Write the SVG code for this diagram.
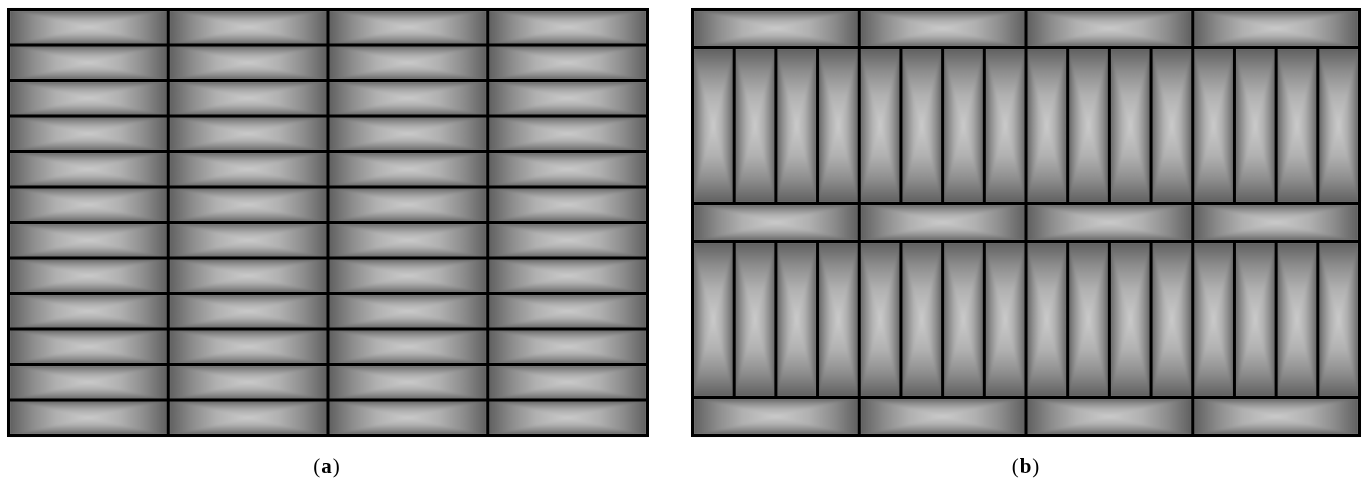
<svg xmlns="http://www.w3.org/2000/svg" xmlns:xlink="http://www.w3.org/1999/xlink" width="1364" height="481" viewBox="0 0 1364 481">
  <style>
    .grid { fill: none; stroke: #000; stroke-width: 3; }
    .lbl { font-family: "Liberation Serif", "DejaVu Serif", serif; font-size: 21px; fill: #000; text-anchor: middle; letter-spacing: 1px; }
  </style>
  <defs>
    <filter id="soft" x="-2%" y="-2%" width="104%" height="104%">
      <feGaussianBlur stdDeviation="1.2"/>
    </filter>
    <!-- full-span ramps (edge -> centre -> edge) -->
    <linearGradient id="spanX" x1="0" y1="0" x2="1" y2="0">
      <stop offset="0" stop-color="#5e5e5e"/>
      <stop offset="0.15" stop-color="#8c8c8c"/>
      <stop offset="0.3" stop-color="#b0b0b0"/>
      <stop offset="0.5" stop-color="#cbcbcb"/>
      <stop offset="0.7" stop-color="#b0b0b0"/>
      <stop offset="0.85" stop-color="#8c8c8c"/>
      <stop offset="1" stop-color="#5e5e5e"/>
    </linearGradient>
    <linearGradient id="spanY" x1="0" y1="0" x2="0" y2="1" xlink:href="#spanX" href="#spanX"/>
    <!-- half ramps (edge -> centre) -->
    <linearGradient id="down" x1="0" y1="0" x2="0" y2="1">
      <stop offset="0" stop-color="#5e5e5e"/>
      <stop offset="0.3" stop-color="#8c8c8c"/>
      <stop offset="0.6" stop-color="#b0b0b0"/>
      <stop offset="1" stop-color="#cbcbcb"/>
    </linearGradient>
    <linearGradient id="up" x1="0" y1="1" x2="0" y2="0" xlink:href="#down" href="#down"/>
    <linearGradient id="right" x1="0" y1="0" x2="1" y2="0" xlink:href="#down" href="#down"/>
    <linearGradient id="left" x1="1" y1="0" x2="0" y2="0" xlink:href="#down" href="#down"/>
    <symbol id="tileH" viewBox="0 0 1 1" preserveAspectRatio="none">
      <rect x="0" y="0" width="1" height="1" fill="url(#spanX)"/>
      <polygon points="0,0 1,0 0.5,0.5" fill="url(#down)"/>
      <polygon points="0,1 1,1 0.5,0.5" fill="url(#up)"/>
    </symbol>
    <symbol id="tileV" viewBox="0 0 1 1" preserveAspectRatio="none">
      <rect x="0" y="0" width="1" height="1" fill="url(#spanY)"/>
      <polygon points="0,0 0,1 0.5,0.5" fill="url(#right)"/>
      <polygon points="1,0 1,1 0.5,0.5" fill="url(#left)"/>
    </symbol>
    <g id="rowA">
      <use xlink:href="#tileH" href="#tileH" x="8.5" y="0" width="159.75" height="35.5"/>
      <use xlink:href="#tileH" href="#tileH" x="168.25" y="0" width="159.75" height="35.5"/>
      <use xlink:href="#tileH" href="#tileH" x="328" y="0" width="159.75" height="35.5"/>
      <use xlink:href="#tileH" href="#tileH" x="487.75" y="0" width="159.75" height="35.5"/>
    </g>
    <g id="rowBh">
      <use xlink:href="#tileH" href="#tileH" x="692.5" y="0" width="166.75" height="38"/>
      <use xlink:href="#tileH" href="#tileH" x="859.25" y="0" width="166.75" height="38"/>
      <use xlink:href="#tileH" href="#tileH" x="1026" y="0" width="166.75" height="38"/>
      <use xlink:href="#tileH" href="#tileH" x="1192.75" y="0" width="166.75" height="38"/>
    </g>
    <g id="bandBv">
      <use xlink:href="#tileV" href="#tileV" x="692.5" y="0" width="41.6875" height="156"/>
      <use xlink:href="#tileV" href="#tileV" x="734.1875" y="0" width="41.6875" height="156"/>
      <use xlink:href="#tileV" href="#tileV" x="775.875" y="0" width="41.6875" height="156"/>
      <use xlink:href="#tileV" href="#tileV" x="817.5625" y="0" width="41.6875" height="156"/>
      <use xlink:href="#tileV" href="#tileV" x="859.25" y="0" width="41.6875" height="156"/>
      <use xlink:href="#tileV" href="#tileV" x="900.9375" y="0" width="41.6875" height="156"/>
      <use xlink:href="#tileV" href="#tileV" x="942.625" y="0" width="41.6875" height="156"/>
      <use xlink:href="#tileV" href="#tileV" x="984.3125" y="0" width="41.6875" height="156"/>
      <use xlink:href="#tileV" href="#tileV" x="1026" y="0" width="41.6875" height="156"/>
      <use xlink:href="#tileV" href="#tileV" x="1067.6875" y="0" width="41.6875" height="156"/>
      <use xlink:href="#tileV" href="#tileV" x="1109.375" y="0" width="41.6875" height="156"/>
      <use xlink:href="#tileV" href="#tileV" x="1151.0625" y="0" width="41.6875" height="156"/>
      <use xlink:href="#tileV" href="#tileV" x="1192.75" y="0" width="41.6875" height="156"/>
      <use xlink:href="#tileV" href="#tileV" x="1234.4375" y="0" width="41.6875" height="156"/>
      <use xlink:href="#tileV" href="#tileV" x="1276.125" y="0" width="41.6875" height="156"/>
      <use xlink:href="#tileV" href="#tileV" x="1317.8125" y="0" width="41.6875" height="156"/>
    </g>
  </defs>

  <rect width="1364" height="481" fill="#fff"/>

  <g id="panel-a">
    <g id="panel-a-tiles" filter="url(#soft)">
      <use xlink:href="#rowA" href="#rowA" y="9.5"/>
      <use xlink:href="#rowA" href="#rowA" y="45"/>
      <use xlink:href="#rowA" href="#rowA" y="80.5"/>
      <use xlink:href="#rowA" href="#rowA" y="116"/>
      <use xlink:href="#rowA" href="#rowA" y="151.5"/>
      <use xlink:href="#rowA" href="#rowA" y="187"/>
      <use xlink:href="#rowA" href="#rowA" y="222.5"/>
      <use xlink:href="#rowA" href="#rowA" y="258"/>
      <use xlink:href="#rowA" href="#rowA" y="293.5"/>
      <use xlink:href="#rowA" href="#rowA" y="329"/>
      <use xlink:href="#rowA" href="#rowA" y="364.5"/>
      <use xlink:href="#rowA" href="#rowA" y="400"/>
    </g>
    <path class="grid" d="M8.5,45H647.5M8.5,80.5H647.5M8.5,116H647.5M8.5,151.5H647.5M8.5,187H647.5M8.5,222.5H647.5M8.5,258H647.5M8.5,293.5H647.5M8.5,329H647.5M8.5,364.5H647.5M8.5,400H647.5M168.25,9.5V435.5M328,9.5V435.5M487.75,9.5V435.5"/>
    <rect class="grid" x="8.5" y="9.5" width="639" height="426"/>
    <text class="lbl" x="327" y="473">(<tspan font-weight="bold">a</tspan>)</text>
  </g>

  <g id="panel-b">
    <g id="panel-b-tiles" filter="url(#soft)">
      <use xlink:href="#rowBh" href="#rowBh" y="9.5"/>
      <use xlink:href="#bandBv" href="#bandBv" y="47.5"/>
      <use xlink:href="#rowBh" href="#rowBh" y="203.5"/>
      <use xlink:href="#bandBv" href="#bandBv" y="241.5"/>
      <use xlink:href="#rowBh" href="#rowBh" y="397.5"/>
    </g>
    <path class="grid" d="M692.5,47.5H1359.5M692.5,203.5H1359.5M692.5,241.5H1359.5M692.5,397.5H1359.5M859.25,9.5V435.5M1026,9.5V435.5M1192.75,9.5V435.5M734.1875,47.5V203.5M775.875,47.5V203.5M817.5625,47.5V203.5M900.9375,47.5V203.5M942.625,47.5V203.5M984.3125,47.5V203.5M1067.6875,47.5V203.5M1109.375,47.5V203.5M1151.0625,47.5V203.5M1234.4375,47.5V203.5M1276.125,47.5V203.5M1317.8125,47.5V203.5M734.1875,241.5V397.5M775.875,241.5V397.5M817.5625,241.5V397.5M900.9375,241.5V397.5M942.625,241.5V397.5M984.3125,241.5V397.5M1067.6875,241.5V397.5M1109.375,241.5V397.5M1151.0625,241.5V397.5M1234.4375,241.5V397.5M1276.125,241.5V397.5M1317.8125,241.5V397.5"/>
    <rect class="grid" x="692.5" y="9.5" width="667" height="426"/>
    <text class="lbl" x="1026" y="473">(<tspan font-weight="bold">b</tspan>)</text>
  </g>
</svg>
